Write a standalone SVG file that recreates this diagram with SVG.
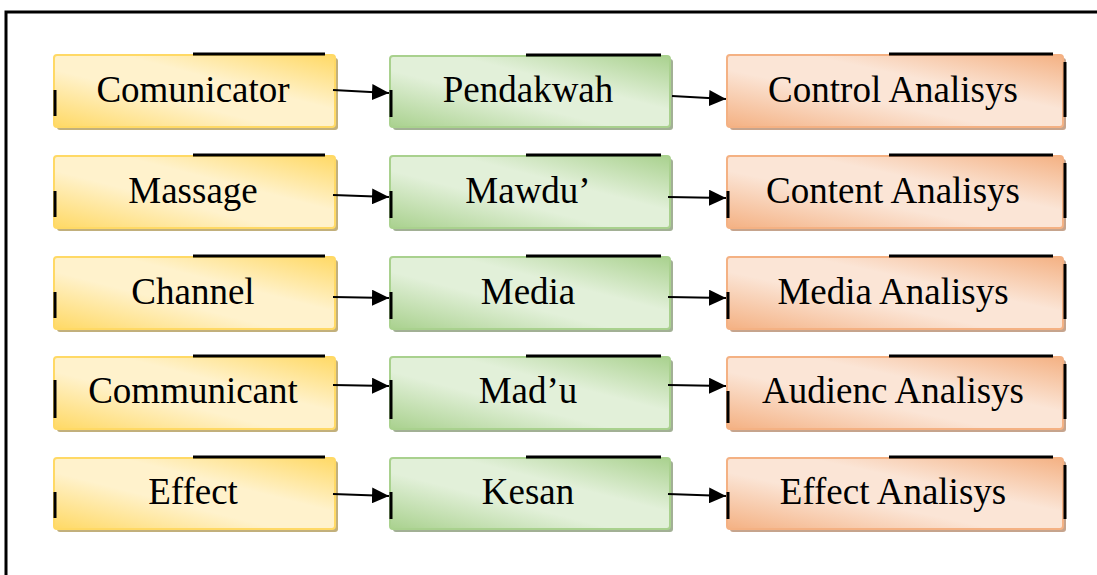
<svg xmlns="http://www.w3.org/2000/svg" width="1097" height="575" viewBox="0 0 1097 575">
<defs>
<linearGradient id="gy" x1="0" y1="1" x2="1" y2="0"><stop offset="0" stop-color="#FFD965"/><stop offset="0.4" stop-color="#FFF2CC"/><stop offset="0.62" stop-color="#FFF2CC"/><stop offset="1" stop-color="#FFD965"/></linearGradient>
<linearGradient id="gg" x1="0" y1="1" x2="1" y2="0"><stop offset="0" stop-color="#A9D18E"/><stop offset="0.4" stop-color="#E2F0D9"/><stop offset="0.62" stop-color="#E2F0D9"/><stop offset="1" stop-color="#A9D18E"/></linearGradient>
<linearGradient id="go" x1="0" y1="1" x2="1" y2="0"><stop offset="0" stop-color="#F4B183"/><stop offset="0.4" stop-color="#FBE5D6"/><stop offset="0.62" stop-color="#FBE5D6"/><stop offset="1" stop-color="#F4B183"/></linearGradient>
<marker id="ah" viewBox="0 0 17 16" refX="17" refY="8" markerWidth="17" markerHeight="16" markerUnits="userSpaceOnUse" orient="auto"><path d="M0,0 L17,8 L0,16 Z" fill="#000"/></marker>
</defs>
<style>
text{font-family:"Liberation Serif","Times New Roman",serif;font-size:37px;fill:#000;text-anchor:middle}
.y{fill:url(#gy);stroke:#FFD965;stroke-width:2}
.g{fill:url(#gg);stroke:#A9D18E;stroke-width:2}
.o{fill:url(#go);stroke:#F4B183;stroke-width:2}
.sy{fill:#C2B07C}.sg{fill:#A2B095}.so{fill:#C6A48D}
.bk{stroke:#000;stroke-width:3;fill:none}
.c{stroke:#000;stroke-width:2;fill:none;marker-end:url(#ah)}
</style>
<g id="frame"><path d="M6,575 V12 H1097" fill="none" stroke="#000" stroke-width="3"/></g>

<g id="n-comunicator"><rect class="sy" x="57" y="58" width="281" height="72" rx="3"/><rect class="y" x="54" y="55" width="281" height="72" rx="3"/><path class="bk" d="M193,54 H325 M55,90 V116"/><text x="193" y="102">Comunicator</text></g>
<g id="n-pendakwah"><rect class="sg" x="393" y="59" width="280" height="71" rx="3"/><rect class="g" x="390" y="56" width="280" height="71" rx="3"/><path class="bk" d="M526,55 H661 M391,90 V117"/><text x="528" y="102">Pendakwah</text></g>
<g id="n-control"><rect class="so" x="730" y="58" width="336" height="72" rx="3"/><rect class="o" x="727" y="55" width="336" height="72" rx="3"/><path class="bk" d="M889,54 H1053 M1065,62 V117"/><text x="893" y="102">Control Analisys</text></g>

<g id="n-massage"><rect class="sy" x="57" y="159" width="281" height="72" rx="3"/><rect class="y" x="54" y="156" width="281" height="72" rx="3"/><path class="bk" d="M193,155 H325 M55,191 V217"/><text x="193" y="203">Massage</text></g>
<g id="n-mawdu"><rect class="sg" x="393" y="159" width="280" height="72" rx="3"/><rect class="g" x="390" y="156" width="280" height="72" rx="3"/><path class="bk" d="M526,155 H661 M391,191 V218"/><text x="528" y="203">Mawdu’</text></g>
<g id="n-content"><rect class="so" x="730" y="159" width="336" height="72" rx="3"/><rect class="o" x="727" y="156" width="336" height="72" rx="3"/><path class="bk" d="M889,155 H1053 M1065,163 V218 M728,191 V218"/><text x="893" y="203">Content Analisys</text></g>

<g id="n-channel"><rect class="sy" x="57" y="260" width="281" height="72" rx="3"/><rect class="y" x="54" y="257" width="281" height="72" rx="3"/><path class="bk" d="M193,256 H325 M55,292 V318"/><text x="193" y="304">Channel</text></g>
<g id="n-media"><rect class="sg" x="393" y="260" width="280" height="72" rx="3"/><rect class="g" x="390" y="257" width="280" height="72" rx="3"/><path class="bk" d="M526,256 H661 M391,292 V319"/><text x="528" y="304">Media</text></g>
<g id="n-media-analisys"><rect class="so" x="730" y="260" width="336" height="72" rx="3"/><rect class="o" x="727" y="257" width="336" height="72" rx="3"/><path class="bk" d="M889,256 H1053 M1065,264 V319 M728,292 V319"/><text x="893" y="304">Media Analisys</text></g>

<g id="n-communicant"><rect class="sy" x="57" y="360" width="281" height="72" rx="3"/><rect class="y" x="54" y="357" width="281" height="72" rx="3"/><path class="bk" d="M193,356 H325 M55,380 V418"/><text x="193" y="403">Communicant</text></g>
<g id="n-madu"><rect class="sg" x="393" y="360" width="280" height="72" rx="3"/><rect class="g" x="390" y="357" width="280" height="72" rx="3"/><path class="bk" d="M526,356 H661 M391,380 V419"/><text x="528" y="403">Mad’u</text></g>
<g id="n-audienc"><rect class="so" x="730" y="360" width="336" height="72" rx="3"/><rect class="o" x="727" y="357" width="336" height="72" rx="3"/><path class="bk" d="M889,356 H1053 M1065,364 V419 M728,391 V423"/><text x="893" y="403">Audienc Analisys</text></g>

<g id="n-effect"><rect class="sy" x="57" y="461" width="281" height="71" rx="3"/><rect class="y" x="54" y="458" width="281" height="71" rx="3"/><path class="bk" d="M193,457 H325 M55,492 V518"/><text x="193" y="504">Effect</text></g>
<g id="n-kesan"><rect class="sg" x="393" y="461" width="280" height="71" rx="3"/><rect class="g" x="390" y="458" width="280" height="71" rx="3"/><path class="bk" d="M526,457 H661 M391,492 V519"/><text x="528" y="504">Kesan</text></g>
<g id="n-effect-analisys"><rect class="so" x="730" y="461" width="336" height="71" rx="3"/><rect class="o" x="727" y="458" width="336" height="71" rx="3"/><path class="bk" d="M889,457 H1053 M1065,465 V519 M728,492 V519"/><text x="893" y="504">Effect Analisys</text></g>

<g id="connectors">
<line class="c" x1="333" y1="90" x2="389" y2="93"/>
<line class="c" x1="672" y1="96" x2="726" y2="99"/>
<line class="c" x1="333" y1="195" x2="389" y2="197"/>
<line class="c" x1="668" y1="197" x2="726" y2="198"/>
<line class="c" x1="333" y1="297" x2="389" y2="298"/>
<line class="c" x1="668" y1="297" x2="726" y2="298"/>
<line class="c" x1="333" y1="385" x2="389" y2="386"/>
<line class="c" x1="668" y1="385" x2="726" y2="386"/>
<line class="c" x1="333" y1="494" x2="389" y2="496"/>
<line class="c" x1="668" y1="494" x2="726" y2="496"/>
</g>
</svg>
